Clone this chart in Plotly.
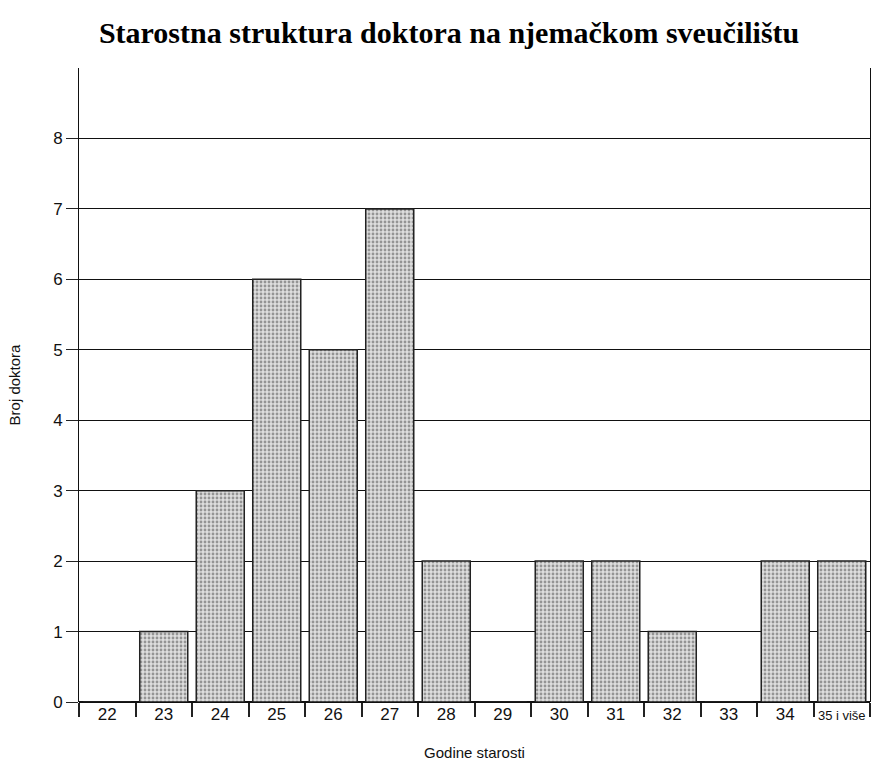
import plotly.graph_objects as go

categories = ["22", "23", "24", "25", "26", "27", "28", "29", "30", "31", "32", "33", "34", "35 i više"]
counts = [0, 1, 3, 6, 5, 7, 2, 0, 2, 2, 1, 0, 2, 2]
y_ticks = [0, 1, 2, 3, 4, 5, 6, 7, 8]

tick_text = [c if c != "35 i više" else "<span style='font-size:13px'>35 i više</span>" for c in categories]

fig = go.Figure(go.Bar(
    x=categories,
    y=counts,
    marker=dict(
        color="#d9d9d9",
        line=dict(color="#222222", width=1.5),
        pattern=dict(shape=".", fgcolor="#4a4a4a", bgcolor="#dedede", size=4, solidity=0.4),
    ),
    width=0.85,
))

fig.update_layout(
    width=872, height=767,
    margin=dict(l=79, r=2, t=68, b=65, autoexpand=False),
    paper_bgcolor="white", plot_bgcolor="white",
    font=dict(family="Liberation Sans, Arial", size=14, color="#111111"),
    title=dict(
        text="<b>Starostna struktura doktora na njemačkom sveučilištu</b>",
        x=0.515, xref="container", xanchor="center",
        y=0.957, yref="container", yanchor="middle",
        font=dict(family="Liberation Serif, Times New Roman", size=30, color="#000000"),
    ),
    showlegend=False,
    bargap=0.15,
)

fig.update_xaxes(
    type="category",
    tickmode="array", tickvals=categories, ticktext=tick_text,
    tickangle=0,
    tickson="boundaries",
    ticks="outside", ticklen=14, tickcolor="#222222", tickwidth=1.5,
    showgrid=False,
    showline=False,
    automargin=False,
    tickfont=dict(size=17),
    title=dict(text="Godine starosti", font=dict(size=15), standoff=24),
)

fig.update_yaxes(
    range=[0, 9],
    tickvals=y_ticks,
    ticks="outside", ticklen=12, tickcolor="#222222",
    showgrid=True, gridcolor="#111111", gridwidth=1,
    showline=True, linecolor="#111111", linewidth=1, mirror=True,
    zeroline=True, zerolinecolor="#111111", zerolinewidth=1.5,
    automargin=False,
    tickfont=dict(size=17),
    title=dict(text="Broj doktora", font=dict(size=15), standoff=28),
)

fig.write_html(
    "out.html",
    config={"displayModeBar": False},
    post_script="document.body.style.margin='0';document.body.style.overflow='hidden';",
)
